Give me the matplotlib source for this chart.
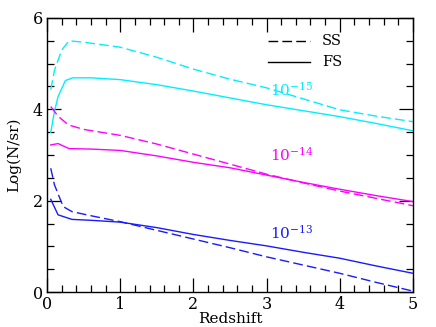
import matplotlib
matplotlib.use("Agg")
import matplotlib.pyplot as plt
from matplotlib.ticker import MultipleLocator

# flux limit 1e-15 (cyan)
z_ss15 = [0.05, 0.1, 0.2, 0.3, 0.5, 1.0, 1.5, 2.0, 2.5, 3.0, 3.5, 4.0, 4.5, 5.0]
n_ss15 = [4.43, 4.85, 5.30, 5.50, 5.47, 5.36, 5.14, 4.88, 4.66, 4.47, 4.23, 3.99, 3.85, 3.73]
z_fs15 = [0.05, 0.1, 0.15, 0.25, 0.35, 0.6, 1.0, 1.5, 2.0, 2.5, 3.0, 3.5, 4.0, 4.5, 5.0]
n_fs15 = [3.50, 3.95, 4.28, 4.63, 4.69, 4.69, 4.65, 4.54, 4.40, 4.25, 4.10, 3.97, 3.84, 3.69, 3.53]

# flux limit 1e-14 (magenta)
z_ss14 = [0.05, 0.15, 0.29, 0.5, 1.0, 1.5, 2.0, 2.5, 3.0, 3.5, 4.0, 4.5, 5.0]
n_ss14 = [4.06, 3.85, 3.66, 3.56, 3.43, 3.24, 3.02, 2.80, 2.58, 2.39, 2.21, 2.05, 1.89]
z_fs14 = [0.05, 0.15, 0.3, 0.6, 1.0, 1.5, 2.0, 2.5, 3.0, 3.5, 4.0, 4.5, 5.0]
n_fs14 = [3.22, 3.25, 3.14, 3.13, 3.10, 2.98, 2.84, 2.72, 2.56, 2.40, 2.25, 2.11, 1.98]

# flux limit 1e-13 (blue)
z_ss13 = [0.05, 0.1, 0.22, 0.34, 0.6, 1.0, 1.5, 2.0, 2.5, 3.0, 3.5, 4.0, 4.5, 5.0]
n_ss13 = [2.71, 2.35, 1.87, 1.76, 1.67, 1.54, 1.35, 1.16, 0.97, 0.77, 0.59, 0.41, 0.21, 0.02]
z_fs13 = [0.05, 0.15, 0.34, 0.6, 1.0, 1.5, 2.0, 2.5, 3.0, 3.5, 4.0, 4.5, 5.0]
n_fs13 = [2.03, 1.69, 1.59, 1.57, 1.53, 1.41, 1.26, 1.13, 1.01, 0.87, 0.74, 0.57, 0.41]

plt.rcParams["font.family"] = ["DejaVu Serif"]
plt.rcParams["mathtext.fontset"] = "dejavuserif"

fig = plt.figure(figsize=(4.36, 3.27), dpi=100)
ax = fig.add_axes([0.108, 0.107, 0.839, 0.838])

cyan, magenta, blue = "#00f0ff", "#ff00ff", "#1a1aff"
dash = (0, (7, 3))
ax.plot(z_ss15, n_ss15, color=cyan, lw=1.0, linestyle=dash)
ax.plot(z_fs15, n_fs15, color=cyan, lw=1.0)
ax.plot(z_ss14, n_ss14, color=magenta, lw=1.0, linestyle=dash)
ax.plot(z_fs14, n_fs14, color=magenta, lw=1.0)
ax.plot(z_ss13, n_ss13, color=blue, lw=1.0, linestyle=dash)
ax.plot(z_fs13, n_fs13, color=blue, lw=1.0)

# legend drawn by hand
ax.plot([3.02, 3.59], [5.49, 5.49], color="black", lw=1.0, linestyle=dash)
ax.plot([3.02, 3.59], [5.03, 5.03], color="black", lw=1.0)
ax.text(3.76, 5.49, "SS", fontsize=10.5, va="center")
ax.text(3.76, 5.03, "FS", fontsize=10.5, va="center")

ax.text(3.05, 4.43, r"$10^{-15}$", color=cyan, fontsize=11, va="center")
ax.text(3.05, 3.0, r"$10^{-14}$", color=magenta, fontsize=11, va="center")
ax.text(3.05, 1.30, r"$10^{-13}$", color=blue, fontsize=11, va="center")

ax.set_xlim(0, 5)
ax.set_ylim(0, 6)
ax.xaxis.set_major_locator(MultipleLocator(1))
ax.xaxis.set_minor_locator(MultipleLocator(0.2))
ax.yaxis.set_major_locator(MultipleLocator(2))
ax.yaxis.set_minor_locator(MultipleLocator(0.5))
ax.tick_params(which="both", direction="in", top=True, right=True, labelsize=11.5, width=0.9, pad=3)
ax.tick_params(which="major", length=10)
ax.tick_params(which="minor", length=5)
for s in ax.spines.values():
    s.set_linewidth(1.0)

ax.set_xlabel("Redshift", fontsize=11, labelpad=-1)
ax.set_ylabel("Log(N/sr)", fontsize=11, labelpad=8)

fig.savefig("out.png", dpi=100)
